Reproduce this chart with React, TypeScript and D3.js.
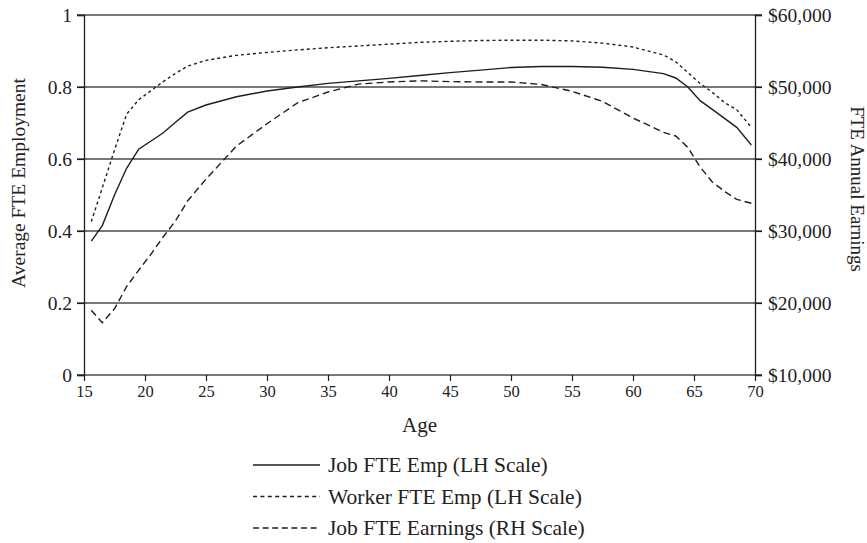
import { useEffect, useRef } from "react";
import * as d3 from "d3";

const ages = [
  15.6, 16.5, 17.5, 18.5, 19.5, 20.5, 21.5, 22.5, 23.5, 25, 27.5, 30, 32.5, 35,
  37.5, 40, 42.5, 45, 47.5, 50, 52.5, 55, 57.5, 60, 62.5, 63.5, 64.5, 65.5,
  66.5, 67.5, 68.5, 69.7,
];

const jobFteEmp = [
  0.372, 0.415, 0.5, 0.575, 0.628, 0.65, 0.673, 0.702, 0.73, 0.75, 0.773,
  0.789, 0.8, 0.81, 0.817, 0.824, 0.832, 0.84, 0.847, 0.854, 0.857, 0.857,
  0.855, 0.849, 0.837, 0.825, 0.8, 0.762, 0.738, 0.713, 0.688, 0.639,
];

const workerFteEmp = [
  0.426, 0.52, 0.625, 0.725, 0.765, 0.79, 0.815, 0.838, 0.858, 0.874, 0.888,
  0.896, 0.903, 0.909, 0.914, 0.919, 0.924, 0.927, 0.929, 0.93, 0.93, 0.928,
  0.922, 0.911, 0.889, 0.87, 0.84, 0.81, 0.785, 0.757, 0.737, 0.688,
];

const jobFteEarnings = [
  19000, 17250, 19200, 22300, 24600, 26800, 29200, 31400, 34200, 37200, 41800,
  44900, 47800, 49300, 50400, 50700, 50850, 50750, 50700, 50700, 50350, 49400,
  48000, 45700, 43700, 43200, 41600, 38900, 36800, 35500, 34400, 33850,
];

const ageTicks = [15, 20, 25, 30, 35, 40, 45, 50, 55, 60, 65, 70];
const leftTicks = [0, 0.2, 0.4, 0.6, 0.8, 1];
const rightTicks = [10000, 20000, 30000, 40000, 50000, 60000];

const legendLabels = [
  "Job FTE Emp (LH Scale)",
  "Worker FTE Emp (LH Scale)",
  "Job FTE Earnings (RH Scale)",
];

const W = 867;
const H = 543;
const margin = { top: 15, left: 84, right: 112, bottom: 168 };
const FONT = "'Liberation Serif', 'Times New Roman', serif";
const INK = "#1e1e1e";

export default function App() {
  const ref = useRef<SVGSVGElement>(null);

  useEffect(() => {
    const svg = d3.select(ref.current);
    svg.selectAll("*").remove();

    const x = d3.scaleLinear().domain([15, 70]).range([margin.left, W - margin.right]);
    const yL = d3.scaleLinear().domain([0, 1]).range([H - margin.bottom, margin.top]);
    const yR = d3.scaleLinear().domain([10000, 60000]).range([H - margin.bottom, margin.top]);

    const x0 = x(15);
    const x1 = x(70);
    const yBottom = yL(0);

    // gridlines (they run through the ticks on both sides)
    svg
      .append("g")
      .selectAll("line")
      .data(leftTicks)
      .join("line")
      .attr("x1", x0 - 7)
      .attr("x2", x1 + 7)
      .attr("y1", (d) => yL(d))
      .attr("y2", (d) => yL(d))
      .attr("stroke", "#4a4a4a")
      .attr("stroke-width", 1.3);

    // left axis
    const gl = svg
      .append("g")
      .attr("transform", `translate(${x0},0)`)
      .call(d3.axisLeft(yL).tickValues(leftTicks).tickFormat(d3.format("~g")).tickSize(7).tickPadding(5));

    // right axis
    const gr = svg
      .append("g")
      .attr("transform", `translate(${x1},0)`)
      .call(
        d3
          .axisRight(yR)
          .tickValues(rightTicks)
          .tickFormat((d) => "$" + d3.format(",")(d as number))
          .tickSize(7)
          .tickPadding(6)
      );

    // bottom axis
    const gb = svg
      .append("g")
      .attr("transform", `translate(0,${yBottom})`)
      .call(d3.axisBottom(x).tickValues(ageTicks).tickSize(6).tickPadding(4));

    [gl, gr, gb].forEach((g) => {
      g.select(".domain").attr("stroke", INK).attr("stroke-width", 1.3);
      g.selectAll(".tick line").attr("stroke", INK).attr("stroke-width", 1.2);
      g.selectAll(".tick text")
        .attr("fill", "#222")
        .style("font-family", FONT)
        .style("font-size", "19.5px");
    });
    gb.select(".domain").remove();
    gb.selectAll(".tick text").style("font-size", "16.5px");

    // series
    const series = [
      { values: jobFteEmp, y: yL, dash: null },
      { values: workerFteEmp, y: yL, dash: "3,3" },
      { values: jobFteEarnings, y: yR, dash: "7,4" },
    ];

    series.forEach((s) => {
      const line = d3
        .line<number>()
        .x((_, i) => x(ages[i]))
        .y((d) => s.y(d));
      svg
        .append("path")
        .attr("d", line(s.values))
        .attr("fill", "none")
        .attr("stroke", INK)
        .attr("stroke-width", 1.4)
        .attr("stroke-dasharray", s.dash);
    });

    // axis titles
    svg
      .append("text")
      .attr("x", (x0 + x1) / 2)
      .attr("y", 432)
      .attr("text-anchor", "middle")
      .style("font-family", FONT)
      .style("font-size", "21px")
      .attr("fill", "#222")
      .text("Age");

    svg
      .append("text")
      .attr("transform", `translate(25,183) rotate(-90)`)
      .attr("text-anchor", "middle")
      .style("font-family", FONT)
      .style("font-size", "19.5px")
      .attr("fill", "#222")
      .text("Average FTE Employment");

    svg
      .append("text")
      .attr("transform", `translate(851,189) rotate(90)`)
      .attr("text-anchor", "middle")
      .style("font-family", FONT)
      .style("font-size", "19px")
      .attr("fill", "#222")
      .text("FTE Annual Earnings");

    // legend
    const legend = svg
      .append("g")
      .selectAll("g")
      .data(legendLabels)
      .join("g")
      .attr("transform", (_, i) => `translate(253,${465 + i * 31.5})`);

    legend
      .append("line")
      .attr("x1", 0)
      .attr("x2", 67)
      .attr("stroke", INK)
      .attr("stroke-width", 1.4)
      .attr("stroke-dasharray", (_, i) => (i === 0 ? null : i === 1 ? "4,3.4" : "6,3.6"));

    legend
      .append("text")
      .attr("x", 75)
      .attr("y", 7)
      .style("font-family", FONT)
      .style("font-size", "21.5px")
      .attr("fill", "#222")
      .text((d) => d);
  }, []);

  return (
    <svg
      ref={ref}
      width={W}
      height={H}
      style={{ position: "absolute", left: 0, top: 0, background: "#fff" }}
    />
  );
}
